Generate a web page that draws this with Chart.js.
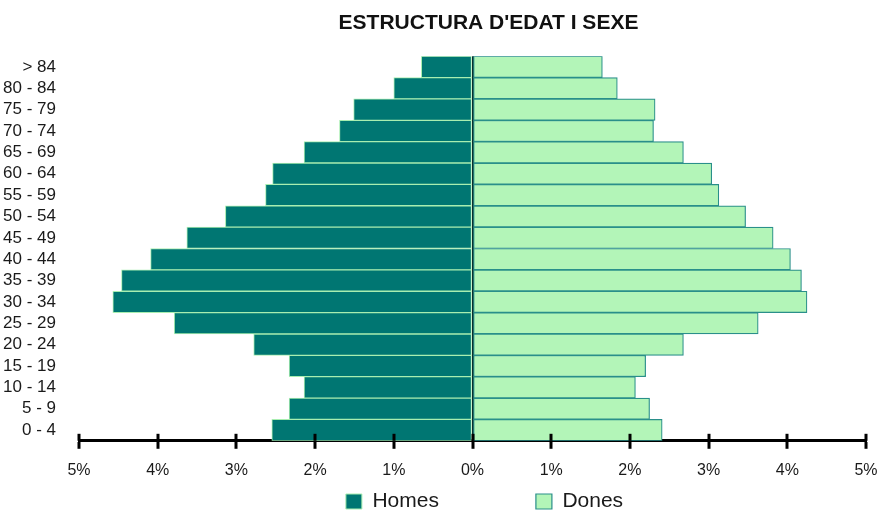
<!DOCTYPE html>
<html>
<head>
<meta charset="utf-8">
<script src="https://cdn.jsdelivr.net/npm/chart.js@4.4.1/dist/chart.umd.min.js"></script>
<style>
  html, body { margin: 0; padding: 0; background: #fff; }
  #wrap { width: 877px; height: 512px; }
</style>
</head>
<body>
<div id="wrap"><canvas id="piramide"></canvas></div>
<script>
// dades: percentatge de població per grup d'edat
const grups = ['> 84', '80 - 84', '75 - 79', '70 - 74', '65 - 69', '60 - 64', '55 - 59', '50 - 54', '45 - 49',
               '40 - 44', '35 - 39', '30 - 34', '25 - 29', '20 - 24', '15 - 19', '10 - 14', '5 - 9', '0 - 4'];
const homes = [0.65, 1.00, 1.51, 1.69, 2.14, 2.54, 2.63, 3.14, 3.63, 4.09, 4.46, 4.57, 3.79, 2.78, 2.33, 2.14, 2.33, 2.55];
const dones = [1.65, 1.84, 2.32, 2.30, 2.68, 3.04, 3.13, 3.47, 3.82, 4.04, 4.18, 4.25, 3.63, 2.68, 2.20, 2.07, 2.25, 2.41];
const ticksX = [-5, -4, -3, -2, -1, 0, 1, 2, 3, 4, 5];

const FONT = "'Liberation Sans', Arial, sans-serif";
const legendPad = 97;

// les marques de l'eix sobresurten també per sobre de la línia
const marquesEix = {
  id: 'marquesEix',
  afterLayout(chart) {
    // desplaça títol i llegenda com a l'original
    chart.titleBlock.left += 50;
    chart.titleBlock.right += 50;
    chart.legend.left += 46;
    chart.legend.right += 46;
    chart.legend.top += -1 - legendPad;
  },
  afterDatasetsDraw(chart) {
    const x = chart.scales.x;
    const ctx = chart.ctx;
    const bottom = chart.chartArea.bottom;
    ctx.save();
    ctx.strokeStyle = '#000';
    ctx.lineWidth = 3;
    x.ticks.forEach((t, i) => {
      const px = Math.round(x.getPixelForTick(i));
      ctx.beginPath();
      ctx.moveTo(px, bottom - 7);
      ctx.lineTo(px, bottom);
      ctx.stroke();
    });
    ctx.restore();
  }
};

const ctx = document.getElementById('piramide');
const piramide = new Chart(ctx, {
  type: 'bar',
  data: {
    labels: grups,
    datasets: [
      {
        label: 'Homes',
        data: homes.map(v => -v),
        backgroundColor: '#007672',
        borderColor: '#a8eeb0',
        borderWidth: 1,
        borderSkipped: false,
        barPercentage: 1,
        categoryPercentage: 1
      },
      {
        label: 'Dones',
        data: dones,
        backgroundColor: '#b3f5b8',
        borderColor: '#2a8f8a',
        borderWidth: 1.2,
        borderSkipped: false,
        barPercentage: 1,
        categoryPercentage: 1
      }
    ]
  },
  options: {
    indexAxis: 'y',
    responsive: true,
    maintainAspectRatio: false,
    animation: false,
    layout: { padding: 0 },
    scales: {
      x: {
        stacked: true,
        min: -5,
        max: 5,
        afterBuildTicks: scale => { scale.ticks = ticksX.map(v => ({ value: v })); },
        afterFit: scale => { scale.paddingRight = 11; },
        ticks: {
          callback: v => Math.abs(v) + '%',
          color: '#1a1a1a',
          padding: 12,
          maxRotation: 0,
          font: { family: FONT, size: 16 }
        },
        grid: {
          drawOnChartArea: true,
          color: c => (c.tick && c.tick.value === 0) ? '#0b2f2d' : 'transparent',
          lineWidth: 2,
          tickColor: '#000',
          tickWidth: 3,
          tickLength: 8
        },
        border: { display: true, color: '#000', width: 3 }
      },
      y: {
        stacked: true,
        afterFit: scale => { scale.width = 79; },
        grid: { display: false },
        border: { display: false },
        ticks: {
          color: '#1a1a1a',
          padding: 15,
          autoSkip: false,
          font: { family: FONT, size: 17 }
        }
      }
    },
    plugins: {
      title: {
        display: true,
        text: "ESTRUCTURA D'EDAT I SEXE",
        color: '#111',
        font: { family: FONT, size: 21, weight: 'bold' },
        padding: { top: 11, bottom: 20 }
      },
      legend: {
        position: 'bottom',
        maxHeight: 20,
        labels: {
          boxWidth: 16,
          boxHeight: 15,
          padding: legendPad,
          color: '#1a1a1a',
          font: { family: FONT, size: 21 }
        }
      },
      tooltip: { enabled: false }
    }
  },
  plugins: [marquesEix]
});
</script>
</body>
</html>
